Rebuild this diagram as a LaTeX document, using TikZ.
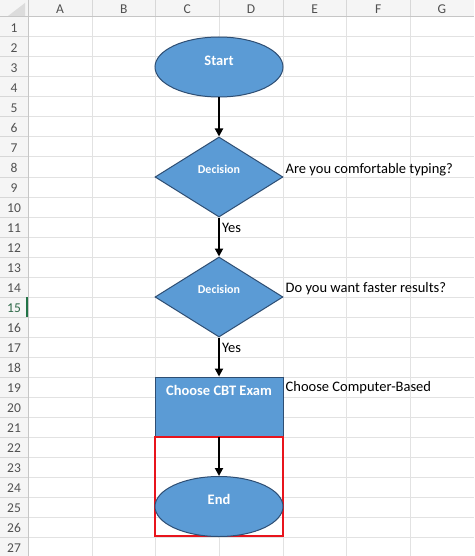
\documentclass[tikz,border=0pt]{standalone}
\usepackage{fontspec}
\setmainfont{Carlito}
\usetikzlibrary{shapes.geometric,arrows.meta}
\definecolor{shapefill}{HTML}{5B9BD5}
\definecolor{shapeline}{HTML}{2E4E73}
\definecolor{gridc}{HTML}{E2E2E2}
\definecolor{hdrbg}{HTML}{F5F5F5}
\definecolor{hdrtext}{HTML}{505050}
\definecolor{hdrline}{HTML}{C6C6C6}
\definecolor{selgreen}{HTML}{217346}
\definecolor{redbox}{HTML}{E8141C}
\definecolor{cornertri}{HTML}{DCDCDC}
\begin{document}
\begin{tikzpicture}[x=1pt,y=-1pt,
  term/.style={ellipse, draw=shapeline, fill=shapefill, line width=1pt, minimum width=128pt, minimum height=60pt, inner sep=0pt},
  decide/.style={diamond, draw=shapeline, fill=shapefill, line width=1pt, minimum width=128pt, minimum height=80pt, inner sep=0pt},
  proc/.style={rectangle, draw=shapeline, fill=shapefill, line width=1pt, minimum width=128pt, minimum height=59pt, inner sep=0pt},
  highlight/.style={rectangle, draw=redbox, line width=2pt, minimum width=128pt, minimum height=99pt, inner sep=0pt},
  shapetext/.style={text=white, font=\bfseries\fontsize{14.5}{16}\selectfont, anchor=base, inner sep=0pt},
  smalltext/.style={text=white, font=\bfseries\fontsize{12}{14}\selectfont, anchor=base, inner sep=0pt},
  celltext/.style={text=black, font=\fontsize{14.5}{16}\selectfont, anchor=base west, inner sep=0pt},
  hdr/.style={text=hdrtext, font=\fontsize{13.5}{15}\selectfont, anchor=base, inner sep=0pt},
  arr/.style={-{Triangle[length=8pt,width=8pt]}, line width=2pt, black},
]
\useasboundingbox (0,0) rectangle (474,556);
\fill[white] (0,0) rectangle (474,556);
% headers
\fill[hdrbg] (0,0) rectangle (474,17);
\fill[hdrbg] (0,0) rectangle (28,556);
\fill[cornertri] (8,16) -- (25,3) -- (25,16) -- cycle;
% grid
\foreach \r in {1,...,27} {
  \draw[gridc, line width=1pt] (28,17+20*\r) -- (474,17+20*\r);
  \draw[hdrline!70, line width=1pt] (0,17+20*\r) -- (28,17+20*\r);
}
\foreach \c in {92,155.5,219,283,346.5,410} {
  \draw[gridc, line width=1pt] (\c,17) -- (\c,556);
  \draw[hdrline!70, line width=1pt] (\c,0) -- (\c,17);
}
\draw[hdrline, line width=1pt] (0,17) -- (474,17);
\draw[hdrline, line width=1pt] (28,0) -- (28,556);
\draw[selgreen, line width=2pt] (27,297) -- (27,317);
% header labels
\foreach \l/\x in {A/60,B/123.7,C/187.2,D/251,E/314.7,F/378.2,G/442} {
  \node[hdr] (col\l) at (\x,14) {\l};
}
\foreach \r in {1,...,27} {
  \ifnum\r=15
    \node[hdr, text=selgreen!70!hdrtext] (row\r) at (14,17+20*\r-20+15.5) {\r};
  \else
    \node[hdr] (row\r) at (14,17+20*\r-20+15.5) {\r};
  \fi
}
% shapes
\node[term] (start) at (219,67) {};
\node[decide] (d1) at (219,177) {};
\node[decide] (d2) at (219,297) {};
\node[proc] (cbt) at (219,406.5) {};
\node[highlight] (hl) at (219,486.5) {};
\node[term] (end) at (219,506.5) {};
% connectors
\draw[arr] (start.south) -- (d1.north);
\draw[arr] (d1.south) -- (d2.north);
\draw[arr] (d2.south) -- (cbt.north);
\draw[arr] (cbt.south) -- (end.north);
% texts
\node[shapetext] (tstart) at (219,66) {Start};
\node[smalltext] (td1) at (219,174) {Decision};
\node[smalltext] (td2) at (219,293.7) {Decision};
\node[shapetext] (tcbt) at (219,395) {Choose CBT Exam};
\node[shapetext] (tend) at (219,504) {End};
\node[celltext] (q1) at (285.5,173.3) {Are you comfortable typing?};
\node[celltext] (q2) at (285.5,292.7) {Do you want faster results?};
\node[celltext] (q3) at (285.5,391.7) {Choose Computer-Based};
\node[celltext] (y1) at (222,232.3) {Yes};
\node[celltext] (y2) at (222,352) {Yes};
\end{tikzpicture}
\end{document}
